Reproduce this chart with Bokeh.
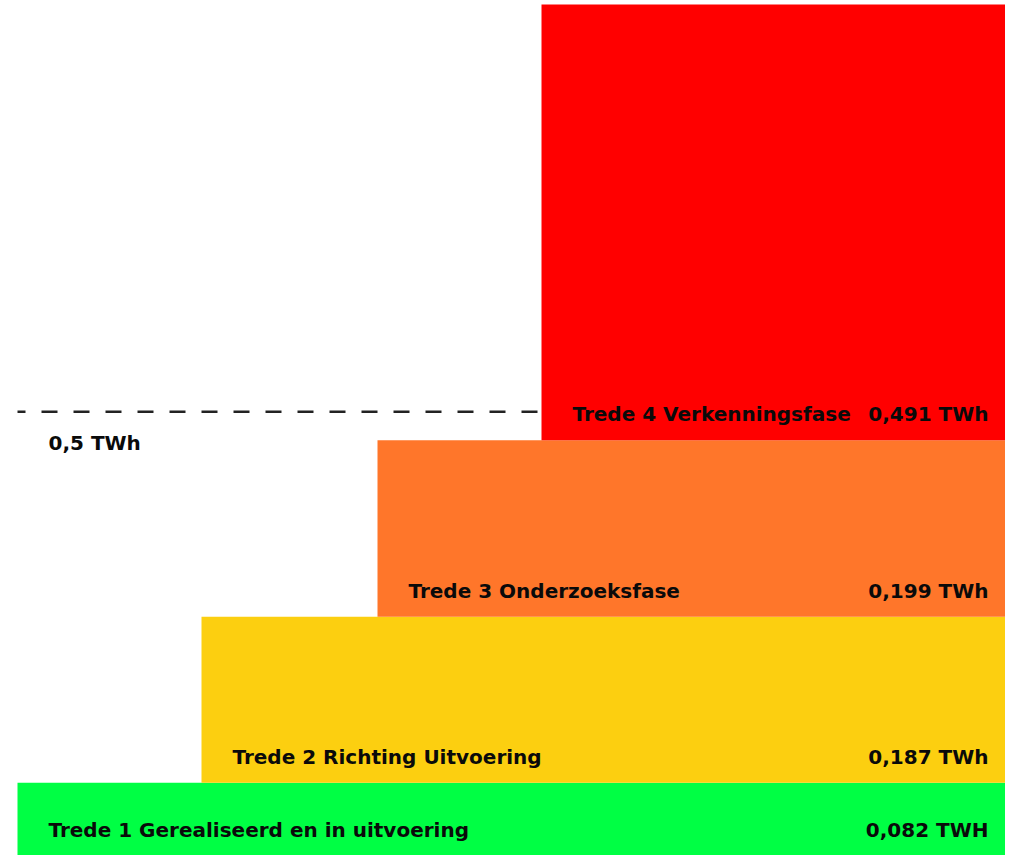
from bokeh.plotting import figure
from bokeh.models import ColumnDataSource, Range1d
from bokeh.core.properties import value
from bokeh.embed import file_html
from bokeh.resources import INLINE

# ---- data ----
steps = [
    "Trede 1 Gerealiseerd en in uitvoering",
    "Trede 2 Richting Uitvoering",
    "Trede 3 Onderzoeksfase",
    "Trede 4 Verkenningsfase",
]
values = [0.082, 0.187, 0.199, 0.491]
value_labels = ["0,082 TWH", "0,187 TWh", "0,199 TWh", "0,491 TWh"]
reference_value = 0.5
reference_label = "0,5 TWh"

# ---- layout / style ----
colors = ["#00FF44", "#FCCF10", "#FF762A", "#FF0000"]
bar_left = [17, 201, 377, 541]   # horizontal start of each step (px units)
W, H = 1005, 855
bar_right = W
Y_END = 0.9635
FONT = value("DejaVu Sans")
FS = "20px"

bottoms, tops = [], []
acc = 0.0
for v in values:
    bottoms.append(acc)
    acc += v
    tops.append(acc)

src = ColumnDataSource(dict(
    left=bar_left, right=[bar_right] * 4, bottom=bottoms, top=tops,
    color=colors, name=steps, vlab=value_labels,
    lx=[l + 31 for l in bar_left], rx=[988] * 4,
))

p = figure(width=W, height=H, output_backend="svg", toolbar_location=None,
           x_range=Range1d(0, W), y_range=Range1d(0, Y_END),
           min_border=0, outline_line_color=None)
p.axis.visible = False
p.grid.visible = False
p.background_fill_color = "white"

p.quad(left="left", right="right", bottom="bottom", top="top",
       fill_color="color", line_color=None, source=src)

p.text(x="lx", y="bottom", text="name", source=src, y_offset=-26,
       text_font=FONT, text_font_style="bold", text_font_size=FS,
       text_color="#0a0a0a", text_baseline="middle", text_align="left")
p.text(x="rx", y="bottom", text="vlab", source=src, y_offset=-26,
       text_font=FONT, text_font_style="bold", text_font_size=FS,
       text_color="#0a0a0a", text_baseline="middle", text_align="right")

# reference line
p.segment(x0=[bar_left[0]], x1=[bar_left[3]], y0=[reference_value], y1=[reference_value],
          line_color="#222222", line_width=2.5, line_dash="16 16", line_dash_offset=8)
p.text(x=[bar_left[0] + 31], y=[reference_value], text=[reference_label], y_offset=31,
       text_font=FONT, text_font_style="bold", text_font_size=FS,
       text_color="#0a0a0a", text_baseline="middle", text_align="left")

open("out.html", "w").write(file_html(p, INLINE))
